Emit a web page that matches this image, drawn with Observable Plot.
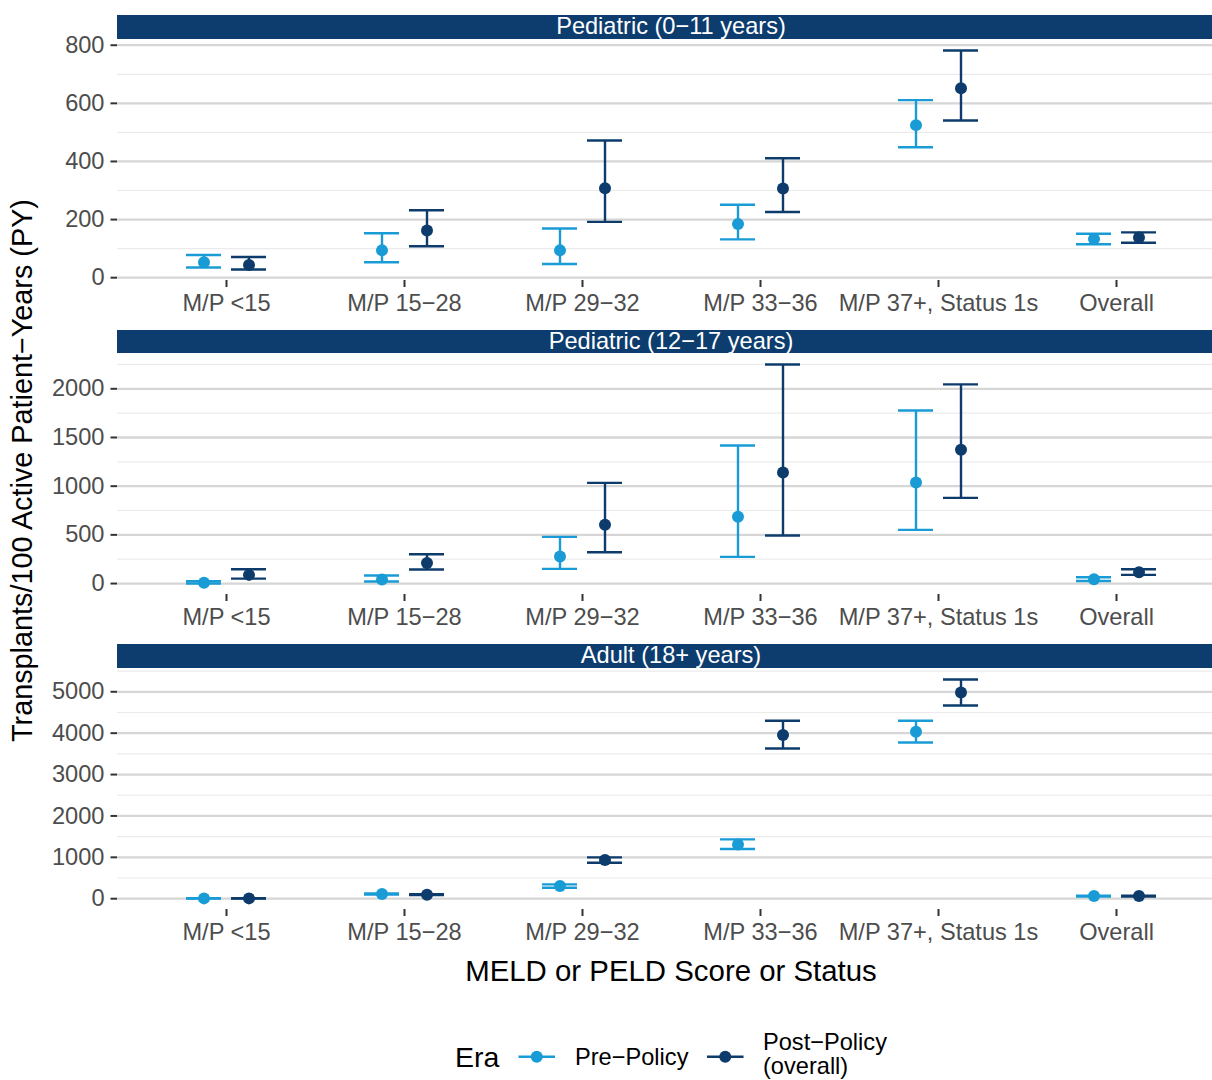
<!DOCTYPE html>
<html>
<head>
<meta charset="utf-8">
<script src="https://cdn.jsdelivr.net/npm/d3@7"></script>
<script src="https://cdn.jsdelivr.net/npm/@observablehq/plot@0.6"></script>
<style>
  body { margin: 0; background: #fff; }
  #root { position: relative; width: 1212px; height: 1080px; overflow: hidden; background: #fff;
          font-family: "Liberation Sans", Arial, Helvetica, sans-serif; }
  .strip { position: absolute; left: 117px; width: 1108px; height: 23.5px; line-height: 23.5px;
           background: #0d3c6e; color: #fff; font-size: 23.6px; text-align: center; white-space: nowrap; }
  .panel { position: absolute; left: 0; }
  .panel svg { background: transparent !important; overflow: visible; }
  #overlay { position: absolute; left: 0; top: 0; pointer-events: none; }
</style>
</head>
<body>
<div id="root"></div>
<script>
// ---------------- data ----------------
const categories = ["M/P <15", "M/P 15\u221228", "M/P 29\u221232", "M/P 33\u221236", "M/P 37+, Status 1s", "Overall"];
const panelTitles = ["Pediatric (0\u221211 years)", "Pediatric (12\u221217 years)", "Adult (18+ years)"];
const eras = ["Pre\u2212Policy", "Post\u2212Policy (overall)"];
const eraLegendLines = [["Pre\u2212Policy"], ["Post\u2212Policy", "(overall)"]];
const eraColors = ["#199bd6", "#0c3b6c"];

// Pediatric (0-11 years)
const ped011PreRate  = [53, 94, 94, 185, 525, 133];
const ped011PreLo    = [35, 53, 47, 132, 449, 115];
const ped011PreHi    = [78, 153, 169, 251, 611, 151];
const ped011PostRate = [44, 162, 308, 307, 652, 138];
const ped011PostLo   = [28, 108, 192, 226, 541, 120];
const ped011PostHi   = [71, 232, 472, 411, 782, 156];

// Pediatric (12-17 years)
const ped1217PreRate  = [7, 41, 277, 685, 1038, 45];
const ped1217PreLo    = [0, 21, 151, 274, 551, 26];
const ped1217PreHi    = [24, 82, 479, 1418, 1777, 65];
const ped1217PostRate = [89, 212, 603, 1140, 1373, 116];
const ped1217PostLo   = [51, 144, 322, 493, 880, 89];
const ped1217PostHi   = [147, 301, 1034, 2250, 2045, 147];

// Adult (18+ years)
const adultPreRate  = [8, 113, 306, 1312, 4034, 64];
const adultPreLo    = [4, 100, 266, 1200, 3776, 55];
const adultPreHi    = [12, 126, 346, 1433, 4300, 73];
const adultPostRate = [8, 97, 934, 3953, 4984, 64];
const adultPostLo   = [4, 88, 870, 3631, 4670, 55];
const adultPostHi   = [12, 106, 998, 4300, 5298, 73];

// axis ticks
const panel1Ticks = [0, 200, 400, 600, 800];
const panel1Minor = [100, 300, 500, 700];
const panel2Ticks = [0, 500, 1000, 1500, 2000];
const panel2Minor = [250, 750, 1250, 1750, 2250];
const panel3Ticks = [0, 1000, 2000, 3000, 4000, 5000];
const panel3Minor = [500, 1500, 2500, 3500, 4500, 5500];

const xTitle = "MELD or PELD Score or Status";
const yTitle = "Transplants/100 Active Patient\u2212Years (PY)";
const legendTitle = "Era";

// ---------------- build ----------------
function buildRows(series) {
  const out = [];
  series.forEach((s, e) => {
    categories.forEach((c, i) => {
      out.push({cat: c, era: eras[e], rate: s.rate[i], lo: s.lo[i], hi: s.hi[i]});
    });
  });
  return out;
}

const panelsData = [
  {title: panelTitles[0], ticks: panel1Ticks, minor: panel1Minor,
   rows: buildRows([{rate: ped011PreRate, lo: ped011PreLo, hi: ped011PreHi},
                    {rate: ped011PostRate, lo: ped011PostLo, hi: ped011PostHi}])},
  {title: panelTitles[1], ticks: panel2Ticks, minor: panel2Minor,
   rows: buildRows([{rate: ped1217PreRate, lo: ped1217PreLo, hi: ped1217PreHi},
                    {rate: ped1217PostRate, lo: ped1217PostLo, hi: ped1217PostHi}])},
  {title: panelTitles[2], ticks: panel3Ticks, minor: panel3Minor,
   rows: buildRows([{rate: adultPreRate, lo: adultPreLo, hi: adultPreHi},
                    {rate: adultPostRate, lo: adultPostLo, hi: adultPostHi}])}
];

const root = document.getElementById("root");
const FONT = '"Liberation Sans", Arial, Helvetica, sans-serif';
const stripTops = [15, 329.5, 644];
const STRIP_H = 23.5;
const PANEL_H = 241;
const BOTTOM = 48;
const dodge = [-22.5, 22.5];
const capHalf = 17.5;
const LW = 2.4;

panelsData.forEach((p, k) => {
  const strip = document.createElement("div");
  strip.className = "strip";
  strip.style.top = stripTops[k] + "px";
  strip.textContent = p.title;
  root.appendChild(strip);

  const lo = d3.min(p.rows, d => d.lo), hi = d3.max(p.rows, d => d.hi);
  const pad = (hi - lo) * 0.05;
  const domain = [lo - pad, hi + pad];
  const minor = p.minor.filter(v => v >= domain[0] && v <= domain[1]);

  const marks = [
    Plot.ruleY(minor, {stroke: "#ebebeb", strokeWidth: 1.2}),
    Plot.ruleY(p.ticks, {stroke: "#d6d6d6", strokeWidth: 2.3}),
    Plot.axisY({ticks: p.ticks, tickSize: 6.5, tickPadding: 6.5, fontSize: 23.6,
                stroke: "#333333", fill: "#4d4d4d", strokeWidth: 2, label: null, tickFormat: d => String(d)}),
    Plot.axisX({tickSize: 7, tickPadding: 7, fontSize: 23.6, stroke: "#333333", fill: "#4d4d4d",
                strokeWidth: 2, label: null})
  ];
  eras.forEach((era, e) => {
    const rows = p.rows.filter(d => d.era === era);
    const col = eraColors[e];
    marks.push(
      Plot.ruleX(rows, {x: "cat", y1: "lo", y2: "hi", stroke: col, strokeWidth: LW, dx: dodge[e]}),
      Plot.ruleY(rows, {y: "lo", x1: "cat", x2: "cat", insetLeft: -capHalf, insetRight: -capHalf,
                        stroke: col, strokeWidth: LW, dx: dodge[e]}),
      Plot.ruleY(rows, {y: "hi", x1: "cat", x2: "cat", insetLeft: -capHalf, insetRight: -capHalf,
                        stroke: col, strokeWidth: LW, dx: dodge[e]}),
      Plot.dot(rows, {x: "cat", y: "rate", r: 6, fill: col, stroke: "none", dx: dodge[e]})
    );
  });

  const chart = Plot.plot({
    width: 1212,
    height: PANEL_H + BOTTOM,
    marginLeft: 117, marginRight: 0, marginTop: 0, marginBottom: BOTTOM,
    style: {fontFamily: FONT, background: "transparent", overflow: "visible"},
    x: {type: "point", domain: categories, range: [224.5, 1117.5], padding: 0},
    y: {domain},
    marks
  });
  const wrap = document.createElement("div");
  wrap.className = "panel";
  wrap.style.top = (stripTops[k] + STRIP_H) + "px";
  wrap.appendChild(chart);
  root.appendChild(wrap);
});

// ---------------- titles & legend ----------------
const svg = d3.select(root).append("svg")
  .attr("id", "overlay").attr("width", 1212).attr("height", 1080)
  .style("font-family", FONT);

svg.append("text")
  .attr("transform", "translate(32,470.5) rotate(-90)")
  .attr("text-anchor", "middle").attr("font-size", 28.8).attr("fill", "#000")
  .text(yTitle);

svg.append("text")
  .attr("x", 671).attr("y", 981).attr("text-anchor", "middle")
  .attr("font-size", 29.4).attr("fill", "#000").text(xTitle);

const leg = svg.append("g");
leg.append("text").attr("x", 455).attr("y", 1066.5).attr("font-size", 28.5).attr("fill", "#000").text(legendTitle);
const keyX = [518.5, 707];
const labelX = [575, 763];
eras.forEach((era, e) => {
  leg.append("line").attr("x1", keyX[e]).attr("x2", keyX[e] + 36.5)
    .attr("y1", 1056.7).attr("y2", 1056.7).attr("stroke", eraColors[e]).attr("stroke-width", LW);
  leg.append("circle").attr("cx", keyX[e] + 18.25).attr("cy", 1056.7).attr("r", 6).attr("fill", eraColors[e]);
  const lines = eraLegendLines[e];
  const t = leg.append("text").attr("font-size", 23.6).attr("fill", "#000");
  const y0 = lines.length === 1 ? 1065 : 1050;
  lines.forEach((ln, j) => {
    t.append("tspan").attr("x", labelX[e]).attr("y", y0 + j * 23.5).text(ln);
  });
});
</script>
</body>
</html>
